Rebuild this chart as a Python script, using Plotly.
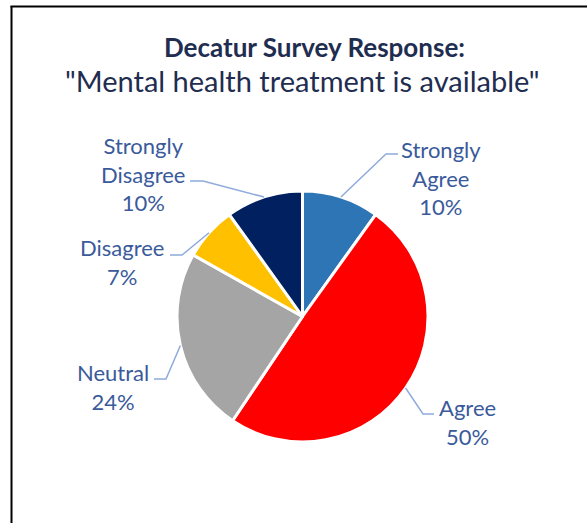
import math
import plotly.graph_objects as go

# Survey responses, in drawing order (clockwise from 12 o'clock)
labels = ["Strongly Agree", "Agree", "Neutral", "Disagree", "Strongly Disagree"]
values = [10, 50, 24, 7, 10]
colors = ["#2E75B6", "#FF0000", "#A5A5A5", "#FFC000", "#002060"]

W, H = 587, 523
CX, CY, R = 302.5, 316.5, 125.5  # pie centre and radius in pixels

# Label centres and leader-line elbows/ends (pixels)
label_pos = [(441, 178), (467, 422), (113, 387), (122, 262), (143, 174)]
leader_elbow = [(386, 154), (423, 414), (166, 379), (182, 255), (203, 181)]
leader_end = [(398, 154), (434, 414), (154, 379), (170, 255), (190, 181)]

LABEL_COLOR = "#3A5A9B"
LINE_COLOR = "#8FAADC"
FONT = "Lato"


def px(x, y):
    return x / W, 1 - y / H


fig = go.Figure(
    go.Pie(
        labels=labels,
        values=values,
        marker=dict(colors=colors, line=dict(color="white", width=3)),
        sort=False,
        direction="clockwise",
        rotation=0,
        textinfo="none",
        hoverinfo="label+value",
        domain=dict(
            x=[(CX - R) / W, (CX + R) / W],
            y=[1 - (CY + R) / H, 1 - (CY - R) / H],
        ),
        showlegend=False,
    )
)

shapes = []
annotations = []
total = sum(values)
cum = 0
for lab, val, lp, el, en in zip(labels, values, label_pos, leader_elbow, leader_end):
    mid = (cum + val / 2) / total * 2 * math.pi
    cum += val
    ex, ey = CX + R * math.sin(mid), CY - R * math.cos(mid)
    p0, p1, p2 = px(ex, ey), px(*el), px(*en)
    shapes.append(dict(
        type="path", xref="paper", yref="paper",
        path=f"M {p0[0]} {p0[1]} L {p1[0]} {p1[1]} L {p2[0]} {p2[1]}",
        line=dict(color=LINE_COLOR, width=1.5),
    ))
    lx, ly = px(*lp)
    annotations.append(dict(
        x=lx, y=ly, xref="paper", yref="paper",
        xanchor="center", yanchor="middle", showarrow=False,
        text=lab.replace(" ", "<br>") + f"<br>{val}%",
        font=dict(family=FONT, size=22, color=LABEL_COLOR),
    ))

# Title lines
annotations.append(dict(
    x=px(314, 47)[0], y=px(314, 47)[1], xref="paper", yref="paper",
    xanchor="center", yanchor="middle", showarrow=False,
    text="<b>Decatur Survey Response:</b>",
    font=dict(family=FONT, size=26, color="#1F2D50"),
))
annotations.append(dict(
    x=px(302, 81)[0], y=px(302, 81)[1], xref="paper", yref="paper",
    xanchor="center", yanchor="middle", showarrow=False,
    text='"Mental health treatment is available"',
    font=dict(family=FONT, size=29, color="#1F2D50"),
))

# Chart frame (left and top edges)
shapes.append(dict(type="line", xref="paper", yref="paper",
                   x0=11.5 / W, x1=11.5 / W, y0=0, y1=1 - 6 / H,
                   line=dict(color="black", width=2)))
shapes.append(dict(type="line", xref="paper", yref="paper",
                   x0=10.5 / W, x1=1, y0=1 - 6.5 / H, y1=1 - 6.5 / H,
                   line=dict(color="black", width=2)))

fig.update_layout(
    width=W, height=H,
    margin=dict(l=0, r=0, t=0, b=0),
    paper_bgcolor="white",
    shapes=shapes,
    annotations=annotations,
)

fig.write_html("out.html")
